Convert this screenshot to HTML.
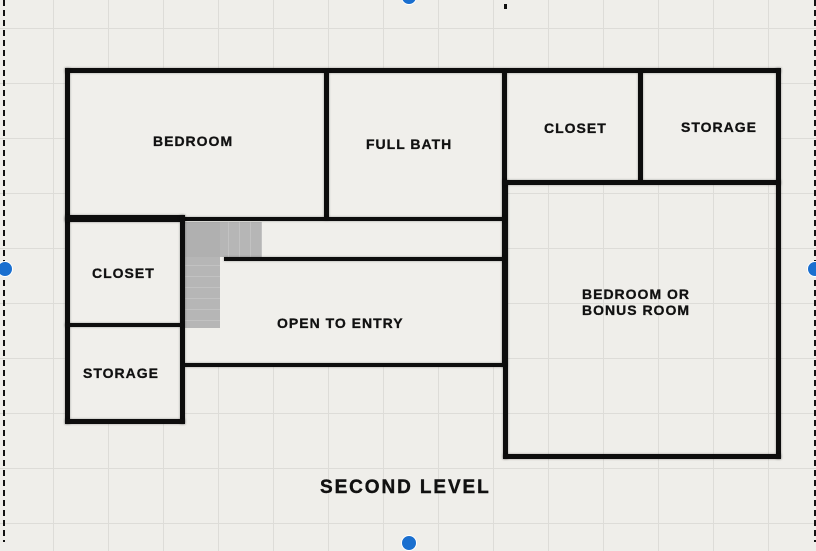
<!DOCTYPE html>
<html><head><meta charset="utf-8"><style>
html,body{margin:0;padding:0}
body{width:816px;height:542px;position:relative;overflow:hidden;background-color:#efeeea;
background-image:linear-gradient(to right,#dddcd8 1px,transparent 1px),linear-gradient(to bottom,#dddcd8 1px,transparent 1px);
background-size:55px 55px;background-position:53px 28px;font-family:"Liberation Sans",Arial,sans-serif}
.f{position:absolute;background:#f0efeb}
.w{position:absolute;background:#0d0d0d;box-shadow:0 0 2px rgba(0,0,0,.35)}
.t{position:absolute;font-weight:bold;font-size:14px;letter-spacing:1px;color:#111;white-space:nowrap;line-height:16px;-webkit-text-stroke:0.3px #111}
.d{position:absolute;top:0;bottom:0;width:2px;background:repeating-linear-gradient(to bottom,#111 0 6px,transparent 6px 10px)}
.dot{position:absolute;width:14px;height:14px;border-radius:50%;background:#1a6fcf;border:1px solid #fff}
.st{position:absolute;background:#b8b8b8}
</style></head><body>
<div class="d" style="left:3px"></div>
<div class="d" style="left:814px"></div>
<div class="dot" style="left:-3px;top:261px"></div>
<div class="dot" style="left:807px;top:261px"></div>
<div class="dot" style="left:401px;top:-11px"></div>
<div class="dot" style="left:401px;top:535px"></div>
<div style="position:absolute;left:504px;top:4px;width:3px;height:5px;background:#111"></div>

<div class="f" style="left:68px;top:70px;width:436px;height:150px"></div>
<div class="f" style="left:504px;top:70px;width:275px;height:113px"></div>
<div class="f" style="left:68px;top:218px;width:115px;height:204px"></div>
<div class="f" style="left:183px;top:218px;width:321px;height:148px"></div>

<div class="st" style="left:185px;top:222px;width:77px;height:35px;background:repeating-linear-gradient(to right,#b6b6b6 0 10px,#c2c2c2 10px 11px)"></div>
<div class="st" style="left:185px;top:222px;width:35px;height:106px;background:repeating-linear-gradient(to bottom,#b6b6b6 0 10px,#c2c2c2 10px 11px)"></div>
<div class="st" style="left:185px;top:222px;width:35px;height:35px;background:#b0b0b0"></div>

<div class="w" style="left:65px;top:68px;width:716px;height:5px"></div>
<div class="w" style="left:65px;top:68px;width:5px;height:356px"></div>
<div class="w" style="left:324px;top:70px;width:5px;height:150px"></div>
<div class="w" style="left:502px;top:70px;width:5px;height:297px"></div>
<div class="w" style="left:503px;top:180px;width:5px;height:279px"></div>
<div class="w" style="left:65px;top:217px;width:440px;height:4px"></div>
<div class="w" style="left:65px;top:215px;width:120px;height:7px"></div>
<div class="w" style="left:180px;top:215px;width:5px;height:209px"></div>
<div class="w" style="left:65px;top:323px;width:118px;height:4px"></div>
<div class="w" style="left:65px;top:419px;width:120px;height:5px"></div>
<div class="w" style="left:224px;top:257px;width:280px;height:4px"></div>
<div class="w" style="left:183px;top:363px;width:322px;height:4px"></div>
<div class="w" style="left:638px;top:70px;width:5px;height:113px"></div>
<div class="w" style="left:503px;top:180px;width:278px;height:5px"></div>
<div class="w" style="left:776px;top:68px;width:5px;height:391px"></div>
<div class="w" style="left:503px;top:454px;width:278px;height:5px"></div>

<div class="t" style="left:153px;top:133px">BEDROOM</div>
<div class="t" style="left:366px;top:136px">FULL BATH</div>
<div class="t" style="left:544px;top:120px">CLOSET</div>
<div class="t" style="left:681px;top:119px">STORAGE</div>
<div class="t" style="left:92px;top:265px">CLOSET</div>
<div class="t" style="left:83px;top:365px">STORAGE</div>
<div class="t" style="left:277px;top:315px">OPEN TO ENTRY</div>
<div class="t" style="left:582px;top:286px;line-height:16px">BEDROOM OR<br>BONUS ROOM</div>
<div class="t" style="left:320px;top:478px;font-size:19px;line-height:20px;letter-spacing:1.9px;-webkit-text-stroke:0.4px #111">SECOND LEVEL</div>
</body></html>
